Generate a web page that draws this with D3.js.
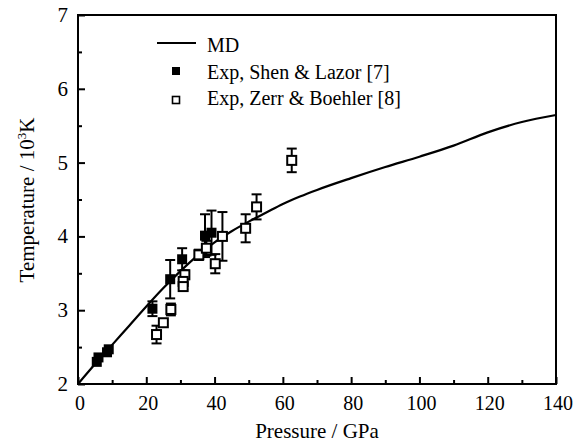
<!DOCTYPE html>
<html>
<head>
<meta charset="utf-8">
<script src="https://cdn.jsdelivr.net/npm/d3@7"></script>
<style>
  body { margin: 0; background: #ffffff; }
  svg { display: block; font-family: "Liberation Serif", "DejaVu Serif", serif; }
</style>
</head>
<body>
<svg id="chart" width="586" height="448"></svg>
<script>
// MD curve (pressure GPa, temperature 10^3 K)
const mdP = [0, 5, 10, 15, 20, 25, 30, 35, 40, 45, 50, 55, 60, 65, 70, 80, 90, 100, 110, 120, 130, 140];
const mdT = [2.0, 2.27, 2.53, 2.79, 3.05, 3.30, 3.53, 3.74, 3.92, 4.07, 4.20, 4.32, 4.44, 4.54, 4.63, 4.79, 4.94, 5.08, 5.23, 5.41, 5.55, 5.645];

// Exp, Shen & Lazor [7]
const shenP = [5.5, 6.0, 8.5, 9.0, 21.8, 27.0, 30.5, 37.2, 39.1];
const shenT = [2.30, 2.36, 2.43, 2.47, 3.02, 3.42, 3.69, 4.01, 4.05];
const shenErr = [0, 0, 0, 0, 0.10, 0.26, 0.15, 0.29, 0.30];

// Exp, Zerr & Boehler [8]
const zerrP = [23.0, 25.0, 27.2, 31.3, 30.8, 30.8, 35.4, 37.6, 40.2, 42.3, 49.1, 52.3, 62.6];
const zerrT = [2.67, 2.83, 3.01, 3.48, 3.39, 3.32, 3.75, 3.84, 3.63, 4.00, 4.11, 4.40, 5.03];
const zerrErr = [0.12, 0, 0.08, 0.06, 0, 0.04, 0.07, 0.10, 0.13, 0.33, 0.19, 0.17, 0.16];

const xTicks = [0, 20, 40, 60, 80, 100, 120, 140];
const yTicks = [2, 3, 4, 5, 6, 7];

const svg = d3.select("#chart");
const plotL = 78, plotR = 556, plotT = 15, plotB = 384;

const x = d3.scaleLinear().domain([0, 140]).range([plotL, plotR]);
const y = d3.scaleLinear().domain([2, 7]).range([plotB, plotT]);

// inward ticks
const xMinor = d3.range(10, 140, 20);
const yMinor = d3.range(2.5, 7, 1);

const gx = svg.append("g").attr("transform", "translate(0," + plotB + ")")
  .call(d3.axisTop(x).tickValues(xTicks).tickSize(7).tickFormat(""));
gx.select(".domain").remove();
gx.selectAll("line").attr("stroke-width", 2);

svg.append("g").attr("transform", "translate(0," + plotB + ")")
  .call(d3.axisTop(x).tickValues(xMinor).tickSize(4).tickFormat(""))
  .call(g => g.select(".domain").remove())
  .selectAll("line").attr("stroke-width", 2);

const gy = svg.append("g").attr("transform", "translate(" + plotL + ",0)")
  .call(d3.axisRight(y).tickValues(yTicks).tickSize(7).tickFormat(""));
gy.select(".domain").remove();
gy.selectAll("line").attr("stroke-width", 2);

svg.append("g").attr("transform", "translate(" + plotL + ",0)")
  .call(d3.axisRight(y).tickValues(yMinor).tickSize(4).tickFormat(""))
  .call(g => g.select(".domain").remove())
  .selectAll("line").attr("stroke-width", 2);

// tick labels
svg.append("g").selectAll("text").data(xTicks).join("text")
  .attr("x", d => x(d) + 2).attr("y", 410)
  .attr("text-anchor", "middle").attr("font-size", 20)
  .text(d => d);

svg.append("g").selectAll("text").data(yTicks).join("text")
  .attr("x", 68).attr("y", d => y(d) + 7)
  .attr("text-anchor", "end").attr("font-size", 21)
  .text(d => d);

// frame
svg.append("rect")
  .attr("x", plotL).attr("y", plotT)
  .attr("width", plotR - plotL).attr("height", plotB - plotT)
  .attr("fill", "none").attr("stroke", "#000").attr("stroke-width", 2);

// MD line
const line = d3.line().curve(d3.curveMonotoneX)
  .x(d => x(d[0])).y(d => y(d[1]));
svg.append("path")
  .datum(mdP.map((p, i) => [p, mdT[i]]))
  .attr("d", line)
  .attr("fill", "none").attr("stroke", "#000").attr("stroke-width", 2.2);

function errorBars(P, T, E) {
  const g = svg.append("g").attr("stroke", "#000").attr("stroke-width", 2);
  P.forEach((p, i) => {
    if (!E[i]) return;
    const cx = x(p), y1 = y(T[i] + E[i]), y2 = y(T[i] - E[i]);
    g.append("line").attr("x1", cx).attr("x2", cx).attr("y1", y1).attr("y2", y2);
    g.append("line").attr("x1", cx - 5).attr("x2", cx + 5).attr("y1", y1).attr("y2", y1);
    g.append("line").attr("x1", cx - 5).attr("x2", cx + 5).attr("y1", y2).attr("y2", y2);
  });
}

errorBars(zerrP, zerrT, zerrErr);
errorBars(shenP, shenT, shenErr);

// open squares
svg.append("g").selectAll("rect").data(zerrP).join("rect")
  .attr("x", (d, i) => x(d) - 4.5).attr("y", (d, i) => y(zerrT[i]) - 4.5)
  .attr("width", 9).attr("height", 9)
  .attr("fill", "#fff").attr("stroke", "#000").attr("stroke-width", 2);

// filled squares
svg.append("g").selectAll("rect").data(shenP).join("rect")
  .attr("x", (d, i) => x(d) - 5).attr("y", (d, i) => y(shenT[i]) - 5)
  .attr("width", 10).attr("height", 10)
  .attr("fill", "#000");

// legend
const lg = svg.append("g");
lg.append("line").attr("x1", 157).attr("x2", 196).attr("y1", 43).attr("y2", 43)
  .attr("stroke", "#000").attr("stroke-width", 2.2);
lg.append("rect").attr("x", 172).attr("y", 67).attr("width", 8).attr("height", 8).attr("fill", "#000");
lg.append("rect").attr("x", 172.5).attr("y", 96.5).attr("width", 7).attr("height", 7)
  .attr("fill", "#fff").attr("stroke", "#000").attr("stroke-width", 1.6);
const legendText = ["MD", "Exp, Shen & Lazor [7]", "Exp, Zerr & Boehler [8]"];
lg.selectAll("text").data(legendText).join("text")
  .attr("x", 207).attr("y", (d, i) => 52 + i * 26.5)
  .attr("font-size", 20).text(d => d);

// axis titles
svg.append("text").attr("x", 317).attr("y", 438)
  .attr("text-anchor", "middle").attr("font-size", 21)
  .text("Pressure / GPa");

const yt = svg.append("text")
  .attr("transform", "translate(34,200) rotate(-90)")
  .attr("text-anchor", "middle").attr("font-size", 21);
yt.append("tspan").text("Temperature / 10");
yt.append("tspan").attr("font-size", 13).attr("dy", -8).text("3");
yt.append("tspan").attr("dy", 8).text("K");
</script>
</body>
</html>
